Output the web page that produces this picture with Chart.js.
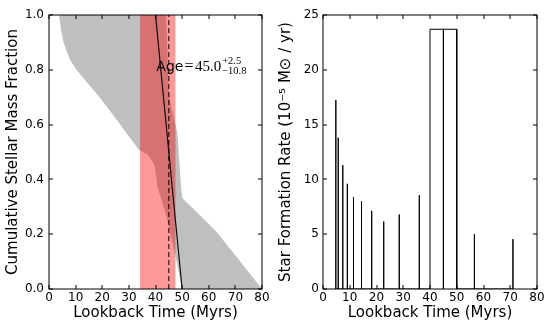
<!DOCTYPE html>
<html>
<head>
<meta charset="utf-8">
<script src="https://cdn.jsdelivr.net/npm/chart.js@4.4.0/dist/chart.umd.min.js"></script>
<style>
  html, body { margin: 0; padding: 0; background: #fff; }
  .wrap { display: flex; width: 554px; height: 332px; }
  canvas { display: block; }
</style>
</head>
<body>
<div class="wrap">
  <canvas id="massChart" width="277" height="332"></canvas>
  <canvas id="sfrChart" width="277" height="332"></canvas>
</div>
<script>
// left panel: envelope of cumulative mass fraction (left edge top->bottom, right edge bottom->top)
const envLeftX  = [3.75, 4.6, 5.5, 6.5, 8.0, 10.3, 15.0, 19.0, 24.5, 29.0, 33.8, 37.2, 39.7, 40.8, 44.0, 47.5, 50.0];
const envLeftY  = [1.0, 0.94, 0.90, 0.87, 0.835, 0.80, 0.745, 0.70, 0.63, 0.57, 0.507, 0.49, 0.45, 0.37, 0.27, 0.12, 0.0];
const envRightX = [80.0, 70.4, 62.9, 56.6, 50.1, 49.7, 48.2, 47.5, 46.0, 45.0, 44.0];
const envRightY = [0.0, 0.118, 0.209, 0.27, 0.331, 0.36, 0.57, 0.60, 0.66, 0.72, 1.0];

// best track and age estimate
const trackX = [40, 50];
const trackY = [1.0, 0.0];
const ageBest = 45.0;
const agePlus = 2.5;
const ageMinus = 10.8;

// right panel: star formation history bins
const binLo = [4.8, 5.7, 7.4, 9.1, 11.4, 14.4, 18.2, 22.7, 28.5, 36.0, 40, 45, 56.6, 71.0];
const binHi = [4.8, 5.7, 7.4, 9.1, 11.4, 14.4, 18.2, 22.7, 28.5, 36.0, 45, 50, 56.6, 71.0];
const sfrVals = [17.25, 13.8, 11.3, 9.6, 8.4, 8.0, 7.13, 6.15, 6.8, 8.55, 23.7, 23.7, 5.0, 4.55];

Chart.defaults.font.family = "'DejaVu Sans', sans-serif";
Chart.defaults.color = '#000';

const pts = (xs, ys) => xs.map((x, i) => ({ x: x, y: ys[i] }));

// box around the axes with inward ticks on all four sides
const frameTicks = {
    id: 'frameTicks',
    afterDraw(chart) {
        const { ctx, chartArea: a, scales } = chart;
        ctx.save();
        ctx.strokeStyle = '#000';
        ctx.lineWidth = 1;
        ctx.beginPath();
        scales.x.ticks.forEach(t => {
            const px = Math.round(scales.x.getPixelForValue(t.value));
            ctx.moveTo(px, a.bottom); ctx.lineTo(px, a.bottom - 4);
            ctx.moveTo(px, a.top); ctx.lineTo(px, a.top + 4);
        });
        scales.y.ticks.forEach(t => {
            const py = Math.round(scales.y.getPixelForValue(t.value));
            ctx.moveTo(a.left, py); ctx.lineTo(a.left + 4, py);
            ctx.moveTo(a.right, py); ctx.lineTo(a.right - 4, py);
        });
        ctx.stroke();
        ctx.strokeRect(a.left, a.top, a.right - a.left, a.bottom - a.top);
        ctx.restore();
    }
};

// Age = 45.0 (+2.5 / -10.8) label
const ageLabel = {
    id: 'ageLabel',
    afterDatasetsDraw(chart) {
        const { ctx, scales } = chart;
        let x = scales.x.getPixelForValue(40.3);
        const y = scales.y.getPixelForValue(0.794);
        ctx.save();
        ctx.fillStyle = '#000';
        ctx.textBaseline = 'alphabetic';
        ctx.font = "14px 'DejaVu Sans'";
        ctx.fillText('Age', x, y);
        x += ctx.measureText('Age').width + 1;
        ctx.font = "16px 'Liberation Serif'";
        ctx.fillText('=', x, y);
        x += ctx.measureText('=').width + 1.5;
        ctx.font = "15px 'Liberation Serif'";
        const best = ageBest.toFixed(1);
        ctx.fillText(best, x, y);
        x += ctx.measureText(best).width + 1;
        ctx.font = "10.5px 'Liberation Serif'";
        ctx.fillText('+' + agePlus.toFixed(1), x, y - 7);
        ctx.fillText('\u2212' + ageMinus.toFixed(1), x, y + 3);
        ctx.restore();
    }
};

function axisStyle(opts) {
    return {
        type: 'linear',
        min: opts.min,
        max: opts.max,
        grid: { display: false, drawTicks: false },
        border: { display: false },
        ticks: Object.assign({ font: { size: 12 }, color: '#000', autoSkip: false, maxRotation: 0 }, opts.ticks),
        title: { display: true, text: opts.title, font: { size: 15 }, color: '#000', padding: opts.titlePad },
        afterFit: opts.afterFit
    };
}

const massChart = new Chart(document.getElementById('massChart').getContext('2d'), {
    type: 'line',
    data: {
        datasets: [
            {
                data: pts(trackX, trackY),
                borderColor: '#000',
                borderWidth: 1.1,
                pointRadius: 0,
                fill: false,
                order: 0
            },
            {
                data: [{ x: ageBest, y: 0 }, { x: ageBest, y: 1 }],
                borderColor: '#000',
                borderWidth: 1,
                borderDash: [5, 3],
                pointRadius: 0,
                fill: false,
                order: 1
            },
            {
                data: [
                    { x: ageBest - ageMinus, y: 0 }, { x: ageBest - ageMinus, y: 1 },
                    { x: ageBest + agePlus, y: 1 }, { x: ageBest + agePlus, y: 0 }
                ],
                borderColor: 'rgba(0,0,0,0)',
                backgroundColor: 'rgba(255,0,0,0.4)',
                pointRadius: 0,
                fill: 'shape',
                order: 2
            },
            {
                data: pts(envLeftX, envLeftY).concat(pts(envRightX, envRightY)),
                borderColor: 'rgba(0,0,0,0)',
                backgroundColor: '#bfbfbf',
                pointRadius: 0,
                fill: 'shape',
                order: 3
            }
        ]
    },
    options: {
        responsive: false,
        animation: false,
        devicePixelRatio: 1,
        layout: { padding: { top: 15, right: 15, left: 0, bottom: 0 } },
        plugins: { legend: { display: false }, tooltip: { enabled: false } },
        scales: {
            x: axisStyle({
                min: 0, max: 80, title: 'Lookback Time (Myrs)',
                ticks: { stepSize: 10, padding: 2 },
                titlePad: { top: 0, bottom: 10 },
                afterFit: s => { s.height = 43; }
            }),
            y: axisStyle({
                min: 0, max: 1, title: 'Cumulative Stellar Mass Fraction',
                ticks: { stepSize: 0.2, padding: 5, callback: v => v.toFixed(1) },
                titlePad: { top: 4, bottom: 4 },
                afterFit: s => { s.width = 49; }
            })
        }
    },
    plugins: [frameTicks, ageLabel]
});

// histogram outline built from the bins
const sfrPath = [];
binLo.forEach((lo, i) => {
    sfrPath.push({ x: lo, y: 0 }, { x: lo, y: sfrVals[i] }, { x: binHi[i], y: sfrVals[i] }, { x: binHi[i], y: 0 });
});

const sfrChart = new Chart(document.getElementById('sfrChart').getContext('2d'), {
    type: 'line',
    data: {
        datasets: [{
            data: sfrPath,
            borderColor: '#000',
            borderWidth: 1,
            pointRadius: 0,
            fill: false
        }]
    },
    options: {
        responsive: false,
        animation: false,
        devicePixelRatio: 1,
        layout: { padding: { top: 15, right: 17, left: 0, bottom: 0 } },
        plugins: { legend: { display: false }, tooltip: { enabled: false } },
        scales: {
            x: axisStyle({
                min: 0, max: 80, title: 'Lookback Time (Myrs)',
                ticks: { stepSize: 10, padding: 2 },
                titlePad: { top: 0, bottom: 10 },
                afterFit: s => { s.height = 43; }
            }),
            y: axisStyle({
                min: 0, max: 25, title: 'Star Formation Rate (10\u207B\u2075 M\u2299 / yr)',
                ticks: { stepSize: 5, padding: 4 },
                titlePad: { top: 0, bottom: 0 },
                afterFit: s => { s.width = 46; }
            })
        }
    },
    plugins: [frameTicks]
});
</script>
</body>
</html>
